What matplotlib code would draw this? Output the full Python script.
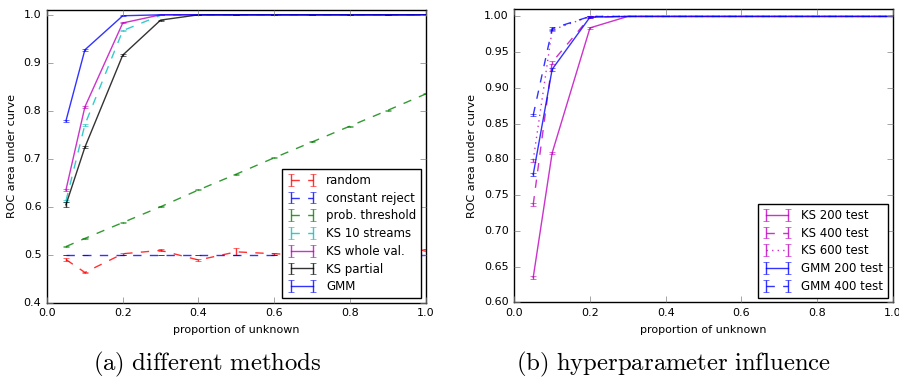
import matplotlib
matplotlib.use("Agg")
import matplotlib.pyplot as plt

plt.style.use("classic")
plt.rcParams["mathtext.fontset"] = "cm"
plt.rcParams["font.family"] = ["DejaVu Sans"]

# proportion of unknown samples
x = [0.05, 0.1, 0.2, 0.3, 0.4, 0.5, 0.6, 0.7, 0.8, 0.9, 1.0]

# (a) different methods
random_auc = [0.490, 0.463, 0.502, 0.509, 0.489, 0.506, 0.502, 0.499, 0.503, 0.501, 0.510]
random_err = [0.003, 0.002, 0.002, 0.002, 0.003, 0.007, 0.002, 0.002, 0.002, 0.002, 0.002]
const_auc = [0.5, 0.5, 0.5, 0.5, 0.5, 0.5, 0.5, 0.5, 0.5, 0.5, 0.5]
prob_auc = [0.517, 0.534, 0.567, 0.600, 0.635, 0.668, 0.702, 0.735, 0.768, 0.801, 0.835]
ks10_auc = [0.612, 0.771, 0.967, 0.999, 1.0, 1.0, 1.0, 1.0, 1.0, 1.0, 1.0]
kswhole_auc = [0.635, 0.808, 0.983, 1.0, 1.0, 1.0, 1.0, 1.0, 1.0, 1.0, 1.0]
kspart_auc = [0.604, 0.724, 0.916, 0.989, 1.0, 1.0, 1.0, 1.0, 1.0, 1.0, 1.0]
kspart_err = [0.005, 0.002, 0.002, 0.001, 0.0, 0.0, 0.0, 0.0, 0.0, 0.0, 0.0]
gmm_auc = [0.779, 0.927, 0.998, 1.0, 1.0, 1.0, 1.0, 1.0, 1.0, 1.0, 1.0]
small_err = [0.002, 0.002, 0.001, 0.0, 0.0, 0.0, 0.0, 0.0, 0.0, 0.0, 0.0]

# (b) hyperparameter influence
ks200 = [0.635, 0.809, 0.984, 1.0, 1.0, 1.0, 1.0, 1.0, 1.0, 1.0, 1.0]
ks400 = [0.737, 0.936, 0.999, 1.0, 1.0, 1.0, 1.0, 1.0, 1.0, 1.0, 1.0]
ks600 = [0.799, 0.981, 1.0, 1.0, 1.0, 1.0, 1.0, 1.0, 1.0, 1.0, 1.0]
gmm200 = [0.779, 0.926, 0.999, 1.0, 1.0, 1.0, 1.0, 1.0, 1.0, 1.0, 1.0]
gmm400 = [0.862, 0.983, 1.0, 1.0, 1.0, 1.0, 1.0, 1.0, 1.0, 1.0, 1.0]
yticks_b = [0.60, 0.65, 0.70, 0.75, 0.80, 0.85, 0.90, 0.95, 1.00]

fig = plt.figure(figsize=(8.99, 3.79), dpi=100, facecolor="white")
ax1 = fig.add_axes([0.0523, 0.2013, 0.4212, 0.7723])
ax2 = fig.add_axes([0.5721, 0.2024, 0.4209, 0.7731])

kw = dict(capsize=2, linewidth=1, alpha=0.8)
ax1.errorbar(x, random_auc, yerr=random_err, fmt="--", color="r", label="random", **kw)
ax1.errorbar(x, const_auc, yerr=0.0, fmt="--", color="b", label="constant reject", **kw)
ax1.errorbar(x, prob_auc, yerr=0.001, fmt="--", color="g", label="prob. threshold", **kw)
ax1.errorbar(x, ks10_auc, yerr=small_err, fmt="--", color="c", label="KS 10 streams", **kw)
ax1.errorbar(x, kswhole_auc, yerr=small_err, fmt="-", color="m", label="KS whole val.", **kw)
ax1.errorbar(x, kspart_auc, yerr=kspart_err, fmt="-", color="k", label="KS partial", **kw)
ax1.errorbar(x, gmm_auc, yerr=small_err, fmt="-", color="b", label="GMM", **kw)
ax1.set_xlim(0.0, 1.0)
ax1.set_ylim(0.4, 1.01)
ax1.set_xlabel("proportion of unknown", fontsize=8)
ax1.set_ylabel("ROC area under curve", fontsize=8)
ax1.legend(loc="lower right", fontsize=8.5, numpoints=2, borderaxespad=0.4,
           handlelength=2.5, labelspacing=0.4)

ax2.errorbar(x, ks200, yerr=small_err, fmt="-", color="m", label="KS 200 test", **kw)
ax2.errorbar(x, ks400, yerr=small_err, fmt="--", color="m", label="KS 400 test", **kw)
ax2.errorbar(x, ks600, yerr=small_err, fmt=":", color="m", label="KS 600 test", **kw)
ax2.errorbar(x, gmm200, yerr=small_err, fmt="-", color="b", label="GMM 200 test", **kw)
ax2.errorbar(x, gmm400, yerr=small_err, fmt="--", color="b", label="GMM 400 test", **kw)
ax2.set_xlim(0.0, 1.0)
ax2.set_ylim(0.6, 1.01)
ax2.set_yticks(yticks_b)
ax2.set_yticklabels(["%.2f" % t for t in yticks_b])
ax2.set_xlabel("proportion of unknown", fontsize=8)
ax2.set_ylabel("ROC area under curve", fontsize=8)
ax2.legend(loc="lower right", fontsize=8.5, numpoints=2, borderaxespad=0.4,
           handlelength=2.5, labelspacing=0.4)

for ax in (ax1, ax2):
    ax.tick_params(labelsize=8, direction="in", length=4, color="0.5")

fig.text(0.230, 0.022, r"$\mathrm{(a)\ different\ methods}$", fontsize=17.8, ha="center")
fig.text(0.749, 0.022, r"$\mathrm{(b)\ hyperparameter\ influence}$", fontsize=17.8, ha="center")

fig.savefig("out.png", dpi=100, facecolor="white")
